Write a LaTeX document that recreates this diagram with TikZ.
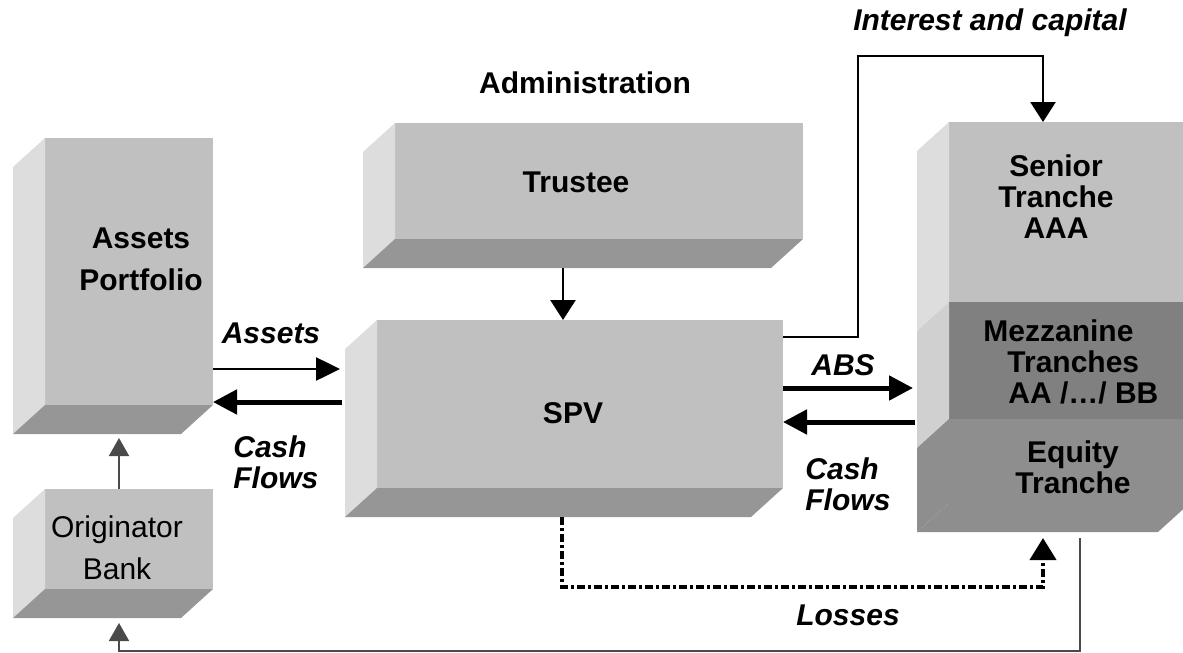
\documentclass[tikz,border=0pt]{standalone}
\usepackage{fontspec}
\setmainfont{Liberation Sans}
\usetikzlibrary{arrows.meta}

\definecolor{facefront}{HTML}{C0C0C0}
\definecolor{faceside}{HTML}{DDDDDD}
\definecolor{facebottom}{HTML}{969696}
\definecolor{mezzfront}{HTML}{808080}
\definecolor{mezzside}{HTML}{D0D0D0}
\definecolor{equityfront}{HTML}{8E8E8E}
\definecolor{linegray}{HTML}{4A4A4A}

\begin{document}
\begin{tikzpicture}[x=0.5pt, y=-0.5pt,
  font=\fontsize{15}{15.5}\selectfont\bfseries,
  face/.style={fill=facefront, inner sep=0pt, outer sep=0pt},
  txt/.style={align=center, inner sep=0pt},
  lbl/.style={font=\fontsize{15}{15.5}\selectfont\bfseries\itshape, inner sep=0pt},
  heavy/.style={-{Triangle[length=10pt,width=12.5pt]}, line width=1.3pt},
  thin flow/.style={-{Triangle[length=12pt,width=11.5pt]}, line width=1.3pt},
  flow/.style={-{Triangle[length=12pt,width=12pt]}, line width=2.5pt},
  loss/.style={-{Triangle[length=11pt,width=13pt]}, line width=2pt,
    dash pattern=on 4pt off 1.5pt on 1.5pt off 1.5pt},
  back/.style={-{Triangle[length=9pt,width=10pt]}, line width=0.9pt, draw=linegray}]
\useasboundingbox (0,0) rectangle (1183,653);

% front faces of the blocks
\node[face, minimum width=84pt, minimum height=133.5pt] (assets) at (129,271.5) {};
\node[face, minimum width=204pt, minimum height=58pt] (trustee) at (599,181) {};
\node[face, minimum width=203pt, minimum height=84pt] (spv) at (580,404) {};
\node[face, minimum width=84pt, minimum height=50pt] (orig) at (129,539) {};
\node[face, minimum width=120.5pt, minimum height=90pt] (senior) at (1069.5,212) {};
\node[face, fill=mezzfront, minimum width=120.5pt, minimum height=58.5pt] (mezz) at (1069.5,360.5) {};
\node[face, fill=equityfront, minimum width=120.5pt, minimum height=42pt] (equity) at (1069.5,461) {};

% side and bottom faces
\foreach \b in {assets,trustee,spv,orig} {
  \fill[faceside] (\b.north west) -- ++(-32,29) -- ([shift={(-32,29)}]\b.south west) -- (\b.south west) -- cycle;
  \fill[facebottom] (\b.south west) -- (\b.south east) -- ++(-32,29) -- ([shift={(-32,29)}]\b.south west) -- cycle;
}
\foreach \b/\c in {senior/faceside, mezz/mezzside, equity/equityfront}
  \fill[\c] (\b.north west) -- ++(-32,29) -- ([shift={(-32,29)}]\b.south west) -- (\b.south west) -- cycle;
\fill[equityfront] (equity.south west) -- (equity.south east) -- ++(-32,29) -- ([shift={(-32,29)}]equity.south west) -- cycle;

% texts on the blocks
\node[txt] (assets-t) at (141,259) {Assets\\[5.5pt]Portfolio};
\node[txt] (trustee-t) at (576,182) {Trustee};
\node[txt] (spv-t) at (573,413) {SPV};
\node[txt, font=\fontsize{15}{15.5}\selectfont\mdseries] (orig-t) at (117,548) {Originator\\[5.5pt]Bank};
\node[txt] (senior-t) at (1056,197) {Senior\\Tranche\\AAA};
\node[txt, align=left, anchor=west] (mezz-t) at (983,362) {Mezzanine\\\hspace*{12pt}Tranches\\\hspace*{12.5pt}AA /…/ BB};
\node[txt] (equity-t) at (1073,467) {Equity\\Tranche};

% flow labels
\node[txt] (admin) at (585,83) {Administration};
\node[lbl] (interest) at (990,23) {Interest and capital};
\node[lbl] (assets-l) at (271,333) {Assets};
\node[lbl, align=left, anchor=west] (cash-l) at (233,462) {Cash\\Flows};
\node[lbl] (abs-l) at (843,365) {ABS};
\node[lbl, align=left, anchor=west] (cash-r) at (805,484) {Cash\\Flows};
\node[lbl] (losses) at (848,615) {Losses};

% rows and bends of the connectors
\coordinate (introw) at (0,337);
\coordinate (assetsrow) at (0,369);
\coordinate (absrow) at (0,388);
\coordinate (cashrow) at (0,402);
\coordinate (cashrow2) at (0,422);
\coordinate (bend) at (858,56);

% connectors
\draw[heavy] ([shift={(-36,29)}]trustee.south) -- ([shift={(-17,0)}]spv.north);
\draw[thin flow] (assets.east |- assetsrow) -- ([xshift=-18.5pt]spv.west |- assetsrow);
\draw[flow] ([xshift=-17.5pt]spv.west |- cashrow) -- (assets.east |- cashrow);
\draw[flow] (spv.east |- absrow) -- ([xshift=-18pt]mezz.west |- absrow);
\draw[flow] ([xshift=-17pt]mezz.west |- cashrow2) -- (spv.east |- cashrow2);
\draw[heavy] (spv.east |- introw) -| (bend) -| ([xshift=-13.25pt]senior.north);
\draw[loss] ([shift={(-18,29)}]spv.south) |- ([shift={(-26.5,84)}]equity.south) -- ([shift={(-26.5,35)}]equity.south);
\draw[back] ([shift={(-10,0)}]orig.north) -- ([shift={(-10,33)}]assets.south);
\draw[back] ([shift={(10.5,35)}]equity.south) |- ([shift={(-10,62)}]orig.south) -- ([shift={(-10,34)}]orig.south);
\end{tikzpicture}
\end{document}
